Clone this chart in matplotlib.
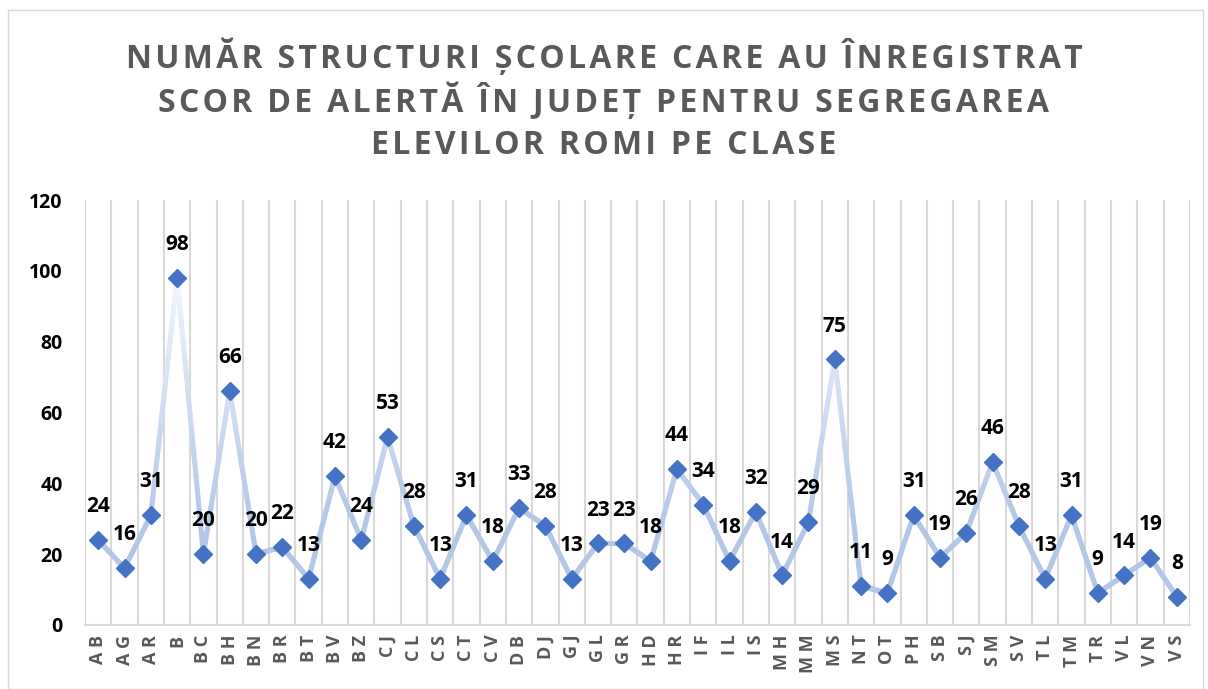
#Recreating the line chart of schools with a segregation alert score per county.

import numpy as np
import matplotlib
import matplotlib.pyplot as plt
from matplotlib.collections import LineCollection
from matplotlib.patches import Rectangle

#Chart data.
judete = ["AB", "AG", "AR", "B", "BC", "BH", "BN", "BR", "BT", "BV", "BZ", "CJ",
          "CL", "CS", "CT", "CV", "DB", "DJ", "GJ", "GL", "GR", "HD", "HR", "IF",
          "IL", "IS", "MH", "MM", "MS", "NT", "OT", "PH", "SB", "SJ", "SM", "SV",
          "TL", "TM", "TR", "VL", "VN", "VS"]
structuri = [24, 16, 31, 98, 20, 66, 20, 22, 13, 42, 24, 53,
             28, 13, 31, 18, 33, 28, 13, 23, 23, 18, 44, 34,
             18, 32, 14, 29, 75, 11, 9, 31, 19, 26, 46, 28,
             13, 31, 9, 14, 19, 8]
y_ticks = [0, 20, 40, 60, 80, 100, 120]
titlu = ["NUMĂR STRUCTURI ȘCOLARE CARE AU ÎNREGISTRAT",
         "SCOR DE ALERTĂ ÎN JUDEȚ PENTRU SEGREGAREA",
         "ELEVILOR ROMI PE CLASE"]

matplotlib.rcParams['font.family'] = ['Open Sans', 'DejaVu Sans']

fig = plt.figure(figsize=(12.08, 6.89), dpi=100)
ax = fig.add_axes([0.0704, 0.093, 0.9146, 0.6167])

x = np.arange(len(judete))
y = np.array(structuri, dtype=float)

#Vertical grid lines between categories.
for b in np.arange(-0.5, len(judete), 1.0):
    ax.axvline(b, color="#D9D9D9", lw=1.5, zorder=0)

#Line with a vertical gradient (light blue at the bottom, almost white at top).
xs, ys = [], []
for i in range(len(x) - 1):
    t = np.linspace(0, 1, 40)
    xs.append(x[i] + (x[i + 1] - x[i]) * t)
    ys.append(y[i] + (y[i + 1] - y[i]) * t)
xs = np.concatenate(xs)
ys = np.concatenate(ys)
pts = np.column_stack([xs, ys]).reshape(-1, 1, 2)
segs = np.concatenate([pts[:-1], pts[1:]], axis=1)
c0 = np.array([180, 199, 231]) / 255
c1 = np.array([246, 249, 253]) / 255
mid = (ys[:-1] + ys[1:]) / 2
f = np.clip((mid - 30) / 72, 0, 1)[:, None]
cols = c0 * (1 - f) + c1 * f
lc = LineCollection(segs, colors=cols, linewidths=3.6, capstyle="round", zorder=2)
ax.add_collection(lc)

ax.plot(x, y, linestyle="none", marker="D", markersize=8.7,
        color="#4472C4", zorder=3)

#Data labels above the markers.
for xi, yi in zip(x, structuri):
    ax.annotate(str(yi), (xi, yi), xytext=(0, 24), textcoords="offset points",
                ha="center", va="center", fontsize=15, fontweight="bold",
                color="black")

ax.set_xlim(-0.5, len(judete) - 0.5)
ax.set_ylim(0, 120)
ax.set_yticks(y_ticks)
ax.set_yticklabels([str(v) for v in y_ticks], fontsize=14, fontweight="bold")
ax.set_xticks(x)
ax.set_xticklabels([" ".join(j) for j in judete], rotation=90, fontsize=13,
                   fontweight="bold", color="#595959")
ax.tick_params(axis="both", length=0)
ax.tick_params(axis="y", pad=16)
ax.tick_params(axis="x", pad=7)
for s in ["top", "right", "left"]:
    ax.spines[s].set_visible(False)
ax.spines["bottom"].set_color("#D9D9D9")
ax.spines["bottom"].set_linewidth(1.5)

#Title, letter-spaced with hair spaces.
for k, linie in enumerate(titlu):
    fig.text(0.5, 1 - (57 + 44 * k) / 689, "\u200a".join(linie), ha="center",
             va="center", fontsize=23, fontweight="bold", color="#595959")

#Chart border.
fig.patches.append(Rectangle((0.007, 0.0), 0.989, 0.986, transform=fig.transFigure,
                             fill=False, edgecolor="#D9D9D9", lw=1))

plt.savefig("out.png", dpi=100)
